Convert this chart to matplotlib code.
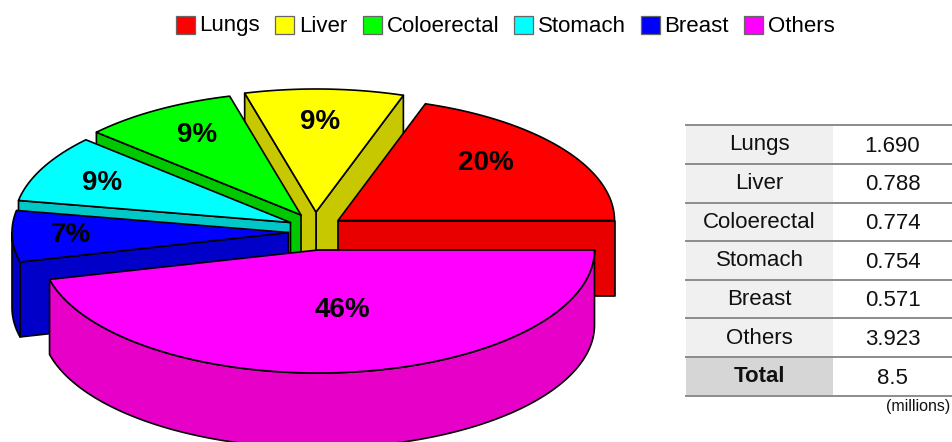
import numpy as np
import matplotlib
matplotlib.use("Agg")
import matplotlib.pyplot as plt
from matplotlib.patches import Polygon, Rectangle

plt.rcParams["font.family"] = ["Liberation Sans", "DejaVu Sans"]

W = 952
H = 442

categories = ["Lungs", "Liver", "Coloerectal", "Stomach", "Breast", "Others"]
values = [1.690, 0.788, 0.774, 0.754, 0.571, 3.923]
value_labels = ["1.690", "0.788", "0.774", "0.754", "0.571", "3.923"]
total_label = "8.5"
unit_label = "(millions)"

top_colors = ["#ff0000", "#ffff00", "#00ff00", "#00ffff", "#0000ff", "#ff00ff"]
side_colors = ["#e80000", "#c8c800", "#00c800", "#00c8c8", "#0000c8", "#e600c8"]

# pixel position of each slice's tip (exploded pie)
apex_x = [338, 316, 301, 290.5, 288.5, 318]
apex_y = [220.5, 212, 215, 222.5, 232.5, 250]
label_x = [486, 320, 197, 102, 71, 342]
label_y = [163, 122, 135, 183, 235, 310]

RX = 276.5
RY = 123
DEPTH = 75

legend_box_x = [176, 275, 362.5, 513.5, 640.5, 743.5]
legend_text_x = [199, 299.5, 387, 538, 664.5, 768]
legend_text_y = [25, 26.5, 26.5, 26.5, 26.5, 26.5]

row_lines = [124.5, 163.5, 202.5, 241, 279.5, 318, 357, 396]

fig = plt.figure(figsize=(W / 100, H / 100), dpi=100)
ax = fig.add_axes([0, 0, 1, 1])
ax.set_xlim(0, W)
ax.set_ylim(H, 0)
ax.axis("off")


def rim(i, a0, a1, drop=0):
    t = np.radians(np.linspace(a0, a1, 120))
    xs = apex_x[i] + RX * np.cos(t)
    ys = apex_y[i] - RY * np.sin(t) + drop
    return np.column_stack([xs, ys])


def shape(pts, color, z):
    ax.add_patch(Polygon(pts, closed=True, facecolor=color, edgecolor="black",
                         linewidth=1.2, joinstyle="round", zorder=z))


def radial_face(i, a, z):
    tip = np.array([apex_x[i], apex_y[i]])
    edge = rim(i, a, a)[0]
    pts = [tip, edge, edge + [0, DEPTH], tip + [0, DEPTH]]
    shape(pts, side_colors[i], z)


shares = np.array(values) / sum(values)
sweeps = shares * 360
starts = np.concatenate([[0], np.cumsum(sweeps)[:-1]])

# back to front
draw_order = [1, 2, 3, 4, 0, 5]
for n, i in enumerate(draw_order):
    a0 = starts[i]
    a1 = a0 + sweeps[i]
    z = 2 + n

    if np.sin(np.radians(a0 - 90)) < 0:
        radial_face(i, a0, z)
    if np.sin(np.radians(a1 + 90)) < 0:
        radial_face(i, a1, z)

    # outer wall, only the part on the near side of the ellipse
    w0 = max(a0, 180)
    if a1 > 180:
        upper = rim(i, w0, a1)
        lower = rim(i, w0, a1, DEPTH)
        shape(np.vstack([upper, lower[::-1]]), side_colors[i], z)

    top = np.vstack([[apex_x[i], apex_y[i]], rim(i, a0, a1)])
    shape(top, top_colors[i], z)

    ax.text(label_x[i], label_y[i], f"{shares[i] * 100:.0f}%", fontsize=20,
            fontweight="bold", ha="center", va="center", zorder=20)

# legend
for i, name in enumerate(categories):
    ax.add_patch(Rectangle((legend_box_x[i], 16), 19, 18, facecolor=top_colors[i],
                           edgecolor="#666666", linewidth=0.9, zorder=5))
    ax.text(legend_text_x[i], legend_text_y[i], name, fontsize=16, ha="left",
            va="center", zorder=5)

# table on the right
TABLE_LEFT = 686
TABLE_MID = 833
names = categories + ["Total"]
numbers = value_labels + [total_label]
for r, name in enumerate(names):
    y0 = row_lines[r]
    y1 = row_lines[r + 1]
    is_total = name == "Total"
    ax.add_patch(Rectangle((TABLE_LEFT, y0), TABLE_MID - TABLE_LEFT, y1 - y0, linewidth=0,
                           facecolor="#d6d6d6" if is_total else "#f0f0f0", zorder=1))
    ym = (y0 + y1) / 2
    ax.text((TABLE_LEFT + TABLE_MID) / 2, ym + 0.5, name, fontsize=16, ha="center", va="center",
            fontweight="bold" if is_total else "normal", color="#111111")
    ax.text(892.5, ym + 2, numbers[r], fontsize=16, ha="center", va="center", color="#111111")

for y in row_lines:
    ax.plot([TABLE_LEFT, W], [y, y], color="#8c8c8c", linewidth=1.4, zorder=3)

ax.text(950, 406, unit_label, fontsize=11.5, ha="right", va="center", color="#111111")

fig.savefig("out.png", dpi=100)
